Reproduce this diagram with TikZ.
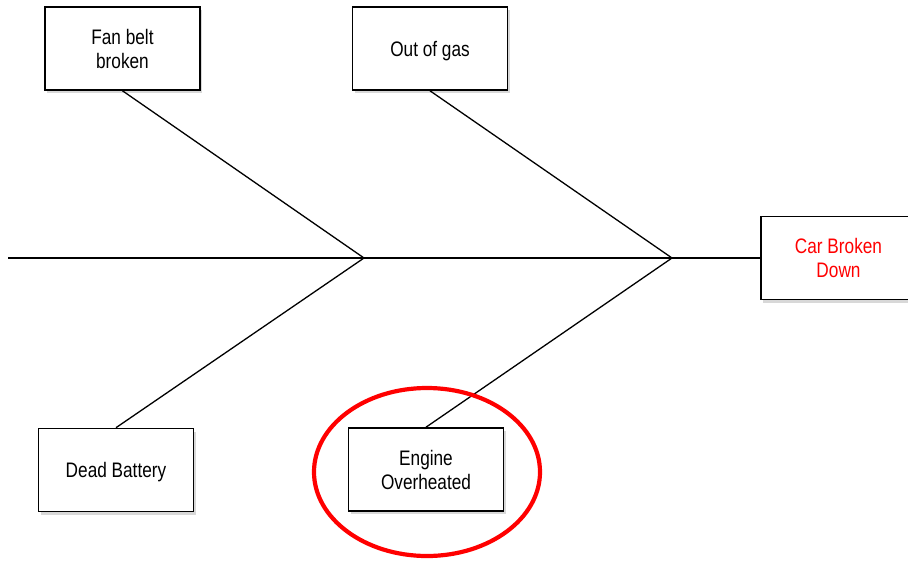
\documentclass[tikz,border=0pt]{standalone}
\usepackage{fontspec}
\setmainfont[FakeStretch=0.82]{Liberation Sans}
\usetikzlibrary{shadows,shapes.geometric}
\begin{document}
\begin{tikzpicture}[x=1pt,y=-1pt,
  cause/.style={draw=black, line width=1.6pt, fill=white, minimum width=155pt, minimum height=83pt,
    align=center, font=\fontsize{21}{24}\selectfont, inner sep=0pt,
    drop shadow={shadow xshift=2pt, shadow yshift=-3pt, opacity=0.3, fill=gray}},
  oneline/.style={text depth=-2pt},
  bone/.style={line width=1.3pt, black}]
\useasboundingbox (0,0) rectangle (908,560);
\clip (0,0) rectangle (908,560);
\fill[white] (0,0) rectangle (908,560);
\coordinate (tail) at (8,258);
\coordinate (j1) at (364,258);
\coordinate (j2) at (672,258);
\node[cause] (fan) at (122.5,48.5) {Fan belt\\broken};
\node[cause, oneline] (gas) at (430,48.5) {Out of gas};
\node[cause, text=red] (car) at (838.5,258) {Car Broken\\Down};
\node[cause, oneline] (dead) at (116,470) {Dead Battery};
\node[cause] (eng) at (426,469.5) {Engine\\Overheated};
\draw[bone] (tail) -- (car.west);
\draw[bone] (fan.south) -- (j1);
\draw[bone] (dead.north) -- (j1);
\draw[bone] (gas.south) -- (j2);
\draw[bone] (eng.north) -- (j2);
\node[draw=red, line width=4.2pt, ellipse, minimum width=226pt, minimum height=168pt, inner sep=0pt] (ring) at (427,472) {};
\end{tikzpicture}
\end{document}
